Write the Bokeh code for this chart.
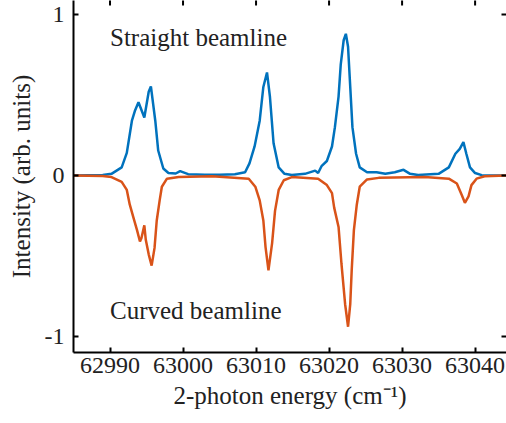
from bokeh.plotting import figure
from bokeh.models import Label, FixedTicker, Range1d
from bokeh.embed import file_html
from bokeh.resources import INLINE

# Data
energy_straight = [62985, 62989, 62990.2, 62991.6, 62992.3, 62993.0, 62993.4, 62993.9, 62994.7,
                   62995.3, 62995.6, 62996.2, 62996.6, 62997.3, 62998.0, 62999.0, 62999.6, 63000.7,
                   63003, 63005, 63007.1, 63008.5, 63009.1, 63009.8, 63010.5, 63011.0, 63011.5,
                   63011.9, 63012.4, 63013.1, 63013.9, 63014.9, 63016.7, 63018.1, 63018.5, 63019.0,
                   63019.7, 63020.4, 63020.8, 63021.3, 63021.6, 63022.0, 63022.3, 63022.6, 63022.9,
                   63023.2, 63023.7, 63024.2, 63025.2, 63026.5, 63027.7, 63029.0, 63030.2, 63031.1,
                   63032.2, 63035.0, 63036.4, 63037.3, 63037.9, 63038.4, 63038.8, 63039.3, 63040.0,
                   63040.9, 63045]
intensity_straight = [0, 0.003, 0.01, 0.05, 0.14, 0.34, 0.40, 0.455, 0.36,
                      0.52, 0.553, 0.34, 0.155, 0.043, 0.015, 0.012, 0.027, 0.008,
                      0.005, 0.005, 0.008, 0.02, 0.075, 0.18, 0.34, 0.55, 0.64,
                      0.49, 0.20, 0.05, 0.01, 0.003, 0.01, 0.03, 0.015, 0.06,
                      0.09, 0.18, 0.30, 0.49, 0.69, 0.84, 0.88, 0.80, 0.55,
                      0.30, 0.135, 0.05, 0.02, 0.02, 0.01, 0.02, 0.035, 0.01,
                      0.003, 0.01, 0.05, 0.135, 0.165, 0.207, 0.135, 0.05, 0.015,
                      0.002, 0]

energy_curved = [62985, 62989, 62990.2, 62991.6, 62992.3, 62992.7, 62993.2, 62993.7, 62994.1,
                 62994.3, 62994.7, 62994.9, 62995.3, 62995.7, 62996.1, 62996.4, 62996.8, 62997.1,
                 62997.8, 62999.4, 63004, 63009.0, 63009.9, 63010.5, 63011.0, 63011.3, 63011.7,
                 63012.2, 63012.6, 63013.1, 63013.8, 63014.9, 63018.5, 63019.7, 63020.4, 63020.7,
                 63021.3, 63021.7, 63022.2, 63022.6, 63022.9, 63023.1, 63023.4, 63023.8, 63024.2,
                 63025.2, 63026.8, 63033.1, 63036.4, 63037.5, 63038.2, 63038.6, 63039.1, 63039.5,
                 63040.2, 63041.3, 63045]
intensity_curved = [0, -0.003, -0.01, -0.04, -0.09, -0.18, -0.26, -0.34, -0.41,
                    -0.39, -0.31, -0.40, -0.49, -0.56, -0.45, -0.28, -0.155, -0.07,
                    -0.02, -0.01, -0.005, -0.02, -0.07, -0.155, -0.28, -0.445, -0.59,
                    -0.42, -0.22, -0.09, -0.03, -0.01, -0.02, -0.06, -0.11, -0.2,
                    -0.32, -0.55, -0.8, -0.94, -0.8, -0.59, -0.34, -0.18, -0.07,
                    -0.025, -0.015, -0.01, -0.02, -0.05, -0.125, -0.17, -0.13, -0.06,
                    -0.02, -0.005, 0]

x_ticks = [62990, 63000, 63010, 63020, 63030, 63040]
y_ticks = [-1, 0, 1]
y_tick_labels = {-1: "-1", 0: "0", 1: "1"}

X_START, X_END = 62985, 63044.3
Y_START, Y_END = -1.1, 1.087

FONT = "Liberation Serif"
TXT = "#222222"

p = figure(width=506, height=423, output_backend="svg", toolbar_location=None,
           x_range=Range1d(X_START, X_END), y_range=Range1d(Y_START, Y_END),
           min_border_left=73, min_border_right=0, min_border_top=0, min_border_bottom=71)
p.outline_line_color = None
p.xgrid.visible = False
p.ygrid.visible = False
p.background_fill_color = "white"
p.border_fill_color = "white"

p.line(energy_straight, intensity_straight, line_color="#0072BD", line_width=2.5)
p.line(energy_curved, intensity_curved, line_color="#D95319", line_width=2.5)

# mirrored inward ticks on the top and right edges (half of each dash is clipped by the frame)
p.scatter(x_ticks, [Y_END] * len(x_ticks), marker="dash", angle=1.5708, size=10,
          line_color="black", line_width=2)
p.scatter([X_END] * len(y_ticks), y_ticks, marker="dash", size=10,
          line_color="black", line_width=2)

for ax in (p.xaxis[0], p.yaxis[0]):
    ax.axis_line_width = 2
    ax.axis_line_color = "black"
    ax.major_tick_in = 5
    ax.major_tick_out = 0
    ax.major_tick_line_width = 2
    ax.minor_tick_line_color = None
    ax.major_label_text_font = FONT
    ax.major_label_text_font_size = "24px"
    ax.major_label_text_color = TXT
    ax.axis_label_text_font = FONT
    ax.axis_label_text_font_size = "25px"
    ax.axis_label_text_font_style = "normal"
    ax.axis_label_text_color = TXT

p.xaxis[0].ticker = FixedTicker(ticks=x_ticks)
p.yaxis[0].ticker = FixedTicker(ticks=y_ticks)
p.yaxis[0].major_label_overrides = y_tick_labels
p.xaxis[0].axis_label = "2-photon energy (cm\u207b\u00b9)"
p.yaxis[0].axis_label = "Intensity (arb. units)"
p.xaxis[0].major_label_standoff = 5
p.xaxis[0].axis_label_standoff = 6
p.yaxis[0].major_label_standoff = 9
p.yaxis[0].axis_label_standoff = 7

p.add_layout(Label(x=62990, y=0.86, text="Straight beamline", text_font=FONT,
                   text_font_size="25px", text_color=TXT, text_baseline="alphabetic"))
p.add_layout(Label(x=62990, y=-0.84, text="Curved beamline", text_font=FONT,
                   text_font_size="25px", text_color=TXT, text_baseline="alphabetic"))

open("out.html", "w").write(file_html(p, INLINE))
